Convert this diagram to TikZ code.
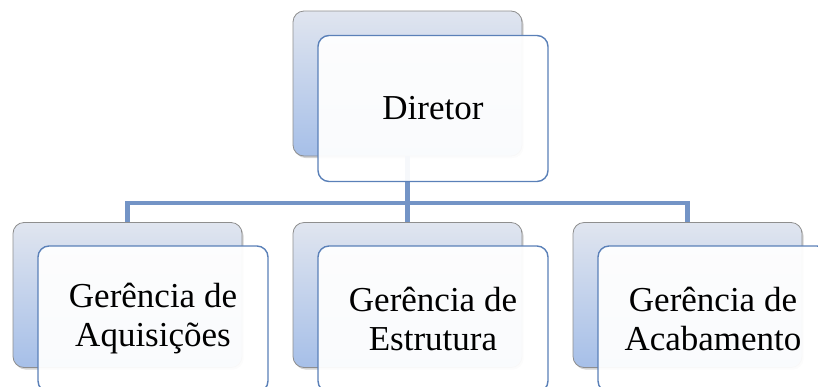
\documentclass[tikz,border=0pt]{standalone}
\usepackage{fontspec}
\setmainfont{Liberation Serif}
\usetikzlibrary{shadows}
\definecolor{backtop}{HTML}{E0E5EF}
\definecolor{backbot}{HTML}{A6BFE8}
\definecolor{backline}{HTML}{8E8E8E}
\definecolor{frontline}{HTML}{5A80B8}
\definecolor{conn}{HTML}{7394C6}
\tikzset{
  x=1pt, y=-1pt,
  backbox/.style={rounded corners=11pt, draw=backline, line width=0.8pt,
    top color=backtop, bottom color=backbot, minimum width=229pt, minimum height=145pt,
    inner sep=0pt, drop shadow={shadow xshift=1.5pt, shadow yshift=-2pt, opacity=0.35}},
  frontbox/.style={rounded corners=11pt, draw=frontline, line width=1.4pt,
    fill=white, fill opacity=0.94, text opacity=1, minimum width=230pt, minimum height=146pt,
    inner sep=0pt, align=center, font=\fontsize{35}{39}\selectfont},
  connector/.style={draw=conn, line width=4.5pt}
}
\begin{document}
\begin{tikzpicture}
\useasboundingbox (0,0) rectangle (818,386);
\begin{scope}
\clip (0,0) rectangle (818,386);
\node[backbox] (dB) at (407.5,83.5) {};
\node[backbox] (aB) at (127.5,295) {};
\node[backbox] (eB) at (407.5,295) {};
\node[backbox] (cB) at (687.5,295) {};
\coordinate (bus) at (407.5,203);
\draw[connector] (dB.south) -- (bus);
\draw[connector] (bus) -| (aB.north);
\draw[connector] (bus) -| (cB.north);
\draw[connector] (bus) -- (eB.north);
\node[frontbox] (dF) at (433,108.5) {Diretor};
\node[frontbox] (aF) at (153,319) {Gerência de\\Aquisições};
\node[frontbox] (eF) at (433,319) {Gerência de\\Estrutura};
\node[frontbox] (cF) at (713,319) {Gerência de\\Acabamento};
\end{scope}
\end{tikzpicture}
\end{document}
